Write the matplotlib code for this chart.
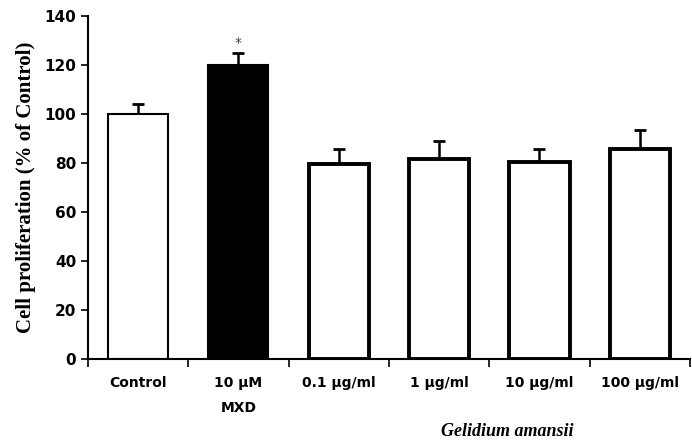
import numpy as np
import matplotlib.pyplot as plt

categories = ['Control', '10 \u00b5M\nMXD', '0.1 \u00b5g/ml', '1 \u00b5g/ml', '10 \u00b5g/ml', '100 \u00b5g/ml']
values = [100, 120, 79.5, 81.5, 80.5, 85.5]
errors = [4, 5, 6, 7.5, 5, 8]
colors = ['white', 'black', 'white', 'white', 'white', 'white']
edge_widths = [1.5, 1.5, 2.8, 2.8, 2.8, 2.8]

fig = plt.figure(figsize=(6.92, 4.41), dpi=100)
ax = fig.add_axes([0.127, 0.186, 0.870, 0.778])

x = np.arange(len(categories))
ax.bar(x, values, width=0.6, color=colors, edgecolor='black', linewidth=edge_widths, zorder=2)
ax.errorbar(x, values, yerr=[np.zeros(len(values)), errors], fmt='none', ecolor='black',
            elinewidth=1.8, capsize=4, capthick=2, zorder=1)
ax.text(1, 126, '*', ha='center', va='bottom', fontsize=10, color='#444444')

ax.set_xlim(-0.5, 5.5)
ax.set_ylim(0, 140)
ax.set_yticks(np.arange(0, 141, 20))
ax.set_xticks(x)
ax.set_xticklabels(categories, fontsize=10, fontweight='semibold', linespacing=2.0)
ax.set_xticks(np.arange(-0.5, 6, 1), minor=True)
ax.tick_params(axis='x', which='major', length=0, pad=12)
ax.tick_params(axis='x', which='minor', length=6, width=1.2, direction='out')
ax.tick_params(axis='y', length=5, width=1.2, labelsize=11, direction='out')
for lbl in ax.get_yticklabels():
    lbl.set_fontweight('bold')

for s in ['top', 'right']:
    ax.spines[s].set_visible(False)
ax.spines['left'].set_linewidth(1.5)
ax.spines['bottom'].set_linewidth(1.5)

ax.set_ylabel('Cell proliferation (% of Control)', family='Liberation Serif', fontweight='bold',
              fontsize=15, labelpad=6)
fig.text(0.733, 0.002, 'Gelidium amansii', ha='center', va='bottom', family='Liberation Serif',
         style='italic', fontweight='bold', fontsize=13)

plt.savefig('out.png', dpi=100)
